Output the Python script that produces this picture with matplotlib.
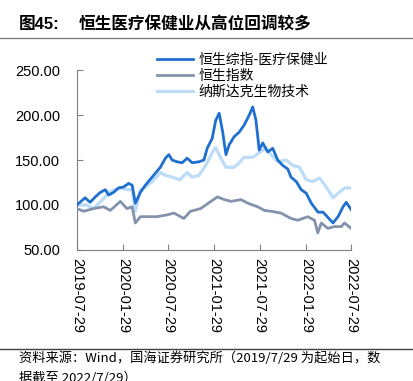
import pandas as pd
import matplotlib
matplotlib.use("Agg")
import matplotlib.pyplot as plt
import matplotlib.dates as mdates

plt.rcParams['font.family'] = ['Liberation Sans', 'Noto Sans CJK SC', 'DejaVu Sans']

# 恒生综指-医疗保健业
hs_med_dates = ["2019-07-29", "2019-08-31", "2019-09-20", "2019-10-11", "2019-10-31",
                "2019-11-20", "2019-12-03", "2019-12-23", "2020-01-12", "2020-02-01",
                "2020-02-21", "2020-03-06", "2020-03-19", "2020-04-08", "2020-04-28",
                "2020-05-25", "2020-06-27", "2020-07-17", "2020-07-31", "2020-08-13",
                "2020-09-02", "2020-09-22", "2020-10-12", "2020-11-01", "2020-11-28",
                "2020-12-18", "2020-12-31", "2021-01-20", "2021-02-03", "2021-02-17",
                "2021-03-03", "2021-03-16", "2021-03-29", "2021-04-18", "2021-05-08",
                "2021-05-28", "2021-06-17", "2021-07-01", "2021-07-14", "2021-07-27",
                "2021-08-10", "2021-08-30", "2021-09-19", "2021-10-09", "2021-10-29",
                "2021-11-18", "2021-12-01", "2021-12-22", "2022-01-11", "2022-01-31",
                "2022-02-20", "2022-03-19", "2022-04-08", "2022-04-28", "2022-05-18",
                "2022-06-07", "2022-06-27", "2022-07-10", "2022-07-29"]
hs_med = [100, 108, 103, 109, 114, 117, 111, 114, 119, 120,
          124, 122, 102, 114, 122, 131, 142, 152, 156, 150,
          148, 147, 152, 147, 148, 150, 163, 174, 194, 202,
          181, 156, 167, 176, 181, 189, 200, 209, 194, 161,
          169, 159, 163, 150, 144, 140, 131, 126, 117, 113,
          102, 92, 92, 86, 80, 87, 98, 103, 95]

# 恒生指数
hsi_dates = ["2019-07-29", "2019-08-25", "2019-10-04", "2019-11-13", "2019-12-10",
             "2020-01-19", "2020-02-14", "2020-03-06", "2020-03-19", "2020-04-08",
             "2020-05-18", "2020-06-14", "2020-07-24", "2020-08-20", "2020-09-29",
             "2020-10-25", "2020-12-05", "2021-01-15", "2021-02-10", "2021-03-09",
             "2021-04-05", "2021-05-15", "2021-06-11", "2021-07-21", "2021-08-16",
             "2021-09-12", "2021-10-22", "2021-12-01", "2021-12-28", "2022-02-06",
             "2022-03-05", "2022-03-18", "2022-04-01", "2022-04-27", "2022-05-24",
             "2022-06-20", "2022-07-03", "2022-07-29"]
hsi = [96, 93, 96, 98, 94, 104, 96, 98, 80, 87,
       87, 87, 89, 91, 85, 93, 96, 104, 109, 106,
       104, 106, 102, 98, 94, 93, 91, 85, 83, 87,
       83, 69, 80, 74, 76, 76, 80, 74]

# 纳斯达克生物技术
nbi_dates = ["2019-07-29", "2019-09-07", "2019-10-04", "2019-11-13", "2019-12-10",
             "2020-01-19", "2020-02-14", "2020-03-06", "2020-03-19", "2020-04-08",
             "2020-04-28", "2020-05-25", "2020-06-27", "2020-07-17", "2020-08-13",
             "2020-09-12", "2020-10-12", "2020-11-01", "2020-11-28", "2020-12-18",
             "2020-12-31", "2021-01-20", "2021-02-03", "2021-02-24", "2021-03-16",
             "2021-04-18", "2021-05-08", "2021-05-28", "2021-07-01", "2021-07-27",
             "2021-08-20", "2021-09-12", "2021-10-09", "2021-11-11", "2021-12-08",
             "2022-01-04", "2022-01-31", "2022-02-26", "2022-03-25", "2022-04-21",
             "2022-05-18", "2022-06-07", "2022-07-04", "2022-07-29"]
nbi = [100, 100, 96, 107, 115, 119, 117, 117, 93, 117,
       120, 126, 136, 133, 131, 128, 136, 131, 133, 141,
       147, 158, 164, 152, 142, 142, 147, 153, 153, 158,
       163, 156, 148, 150, 144, 142, 128, 126, 130, 120,
       108, 113, 119, 119]

fig = plt.figure(figsize=(4.13, 3.81), dpi=100)
ax = fig.add_axes([0.186, 0.344, 0.664, 0.472])

ax.plot(pd.to_datetime(nbi_dates), nbi, color="#bcdcf8", lw=2.3, label="纳斯达克生物技术", zorder=2)
ax.plot(pd.to_datetime(hsi_dates), hsi, color="#8393ab", lw=2.0, label="恒生指数", zorder=3)
ax.plot(pd.to_datetime(hs_med_dates), hs_med, color="#1f6fd0", lw=2.0, label="恒生综指-医疗保健业", zorder=4)

ax.set_ylim(50, 250)
ax.set_yticks([50, 100, 150, 200, 250])
ax.set_yticklabels(["%.2f" % v for v in [50, 100, 150, 200, 250]], fontsize=10.5)
ticks = pd.to_datetime(["2019-07-29", "2020-01-29", "2020-07-29", "2021-01-29",
                        "2021-07-29", "2022-01-29", "2022-07-29"])
ax.set_xlim(ticks[0], ticks[-1])
ax.set_xticks(ticks)
ax.xaxis.set_major_formatter(mdates.DateFormatter("%Y-%m-%d"))
plt.setp(ax.get_xticklabels(), rotation=270, fontsize=10.5, ha="center", va="top")

for s in ["top", "right"]:
    ax.spines[s].set_visible(False)
for s in ["left", "bottom"]:
    ax.spines[s].set_color("#808080")
ax.tick_params(direction="in", color="#808080", length=4)
ax.tick_params(axis="y", pad=12)
ax.tick_params(axis="x", pad=6)

h, l = ax.get_legend_handles_labels()
fig.legend(h[::-1], l[::-1], loc="upper left", bbox_to_anchor=(0.35, 0.895),
           frameon=False, handlelength=2.6, labelspacing=0.15,
           handletextpad=0.4, prop={'family': ['Noto Sans CJK SC'], 'size': 10})

fig.text(0.045, 0.935, "图45:", fontsize=12, fontweight="bold",
         family=['Liberation Sans', 'Noto Sans CJK SC'], va="center")
fig.text(0.19, 0.935, "恒生医疗保健业从高位回调较多", fontsize=12, fontweight="bold",
         family=['Noto Sans CJK SC'], va="center")
fig.add_artist(plt.Line2D([0, 1], [0.9, 0.9], color="#808080", lw=1))
fig.add_artist(plt.Line2D([0, 1], [0.084, 0.084], color="#404040", lw=1))
fig.text(0.045, 0.06, "资料来源：Wind，国海证券研究所（2019/7/29 为起始日，数",
         fontsize=9.5, family=['Noto Sans CJK SC'], va="center")
fig.text(0.045, 0.008, "据截至 2022/7/29）",
         fontsize=9.5, family=['Noto Sans CJK SC'], va="center")

fig.savefig("out.png", dpi=100)
